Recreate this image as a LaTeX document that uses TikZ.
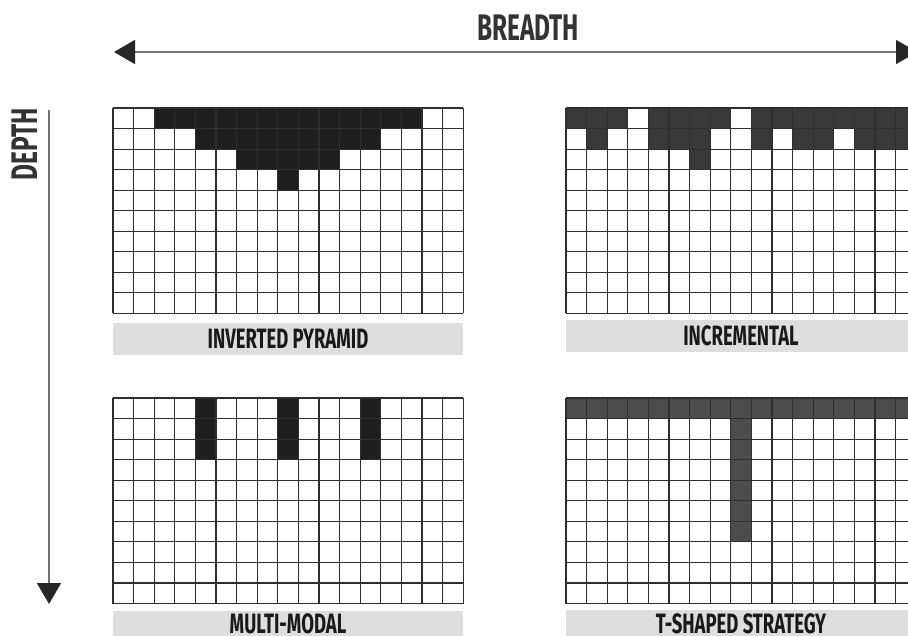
\documentclass[tikz,border=0pt]{standalone}
\usepackage{fontspec}
\newfontfamily\labelfont{Fira Sans}[FakeStretch=0.66]
\usetikzlibrary{arrows.meta, positioning}
\tikzset{
  cell/.style={draw=black!82, line width=1.1pt},
  darkA/.style={fill=black!88},
  darkB/.style={fill=black!78},
  darkC/.style={fill=black!70},
  bar/.style={fill=black!13},
  caption/.style={inner sep=0pt, text=black!90,
                  font=\labelfont\bfseries\fontsize{28}{28}\selectfont},
  axislabel/.style={font=\labelfont\bfseries\fontsize{37}{37}\selectfont,
                    text=black!80, inner sep=0pt},
  axis/.style={draw=black!55, line width=1.4pt},
  bigtip/.tip={Triangle[length=21pt, width=24pt, black!85]},
}
\newcommand\cellgrid{%
  \foreach \c in {0,...,17} \draw[cell] (\c,0) -- (\c,10);
  \foreach \r in {0,...,10} \draw[cell] (0,\r) -- (17,\r);
}

\begin{document}
\begin{tikzpicture}[x=1pt, y=-1pt]
  \useasboundingbox (0,0) rectangle (908,636);
  \clip (0,0) rectangle (908,636);

  % axes
  \coordinate (bleft) at (114,52);
  \coordinate (bright) at (917,52);
  \draw[axis, {bigtip}-{bigtip}] (bleft) -- (bright);
  \node[axislabel] (breadth) at (528,28) {BREADTH};
  \coordinate (dtop) at (49,110);
  \coordinate (dbot) at (49,604);
  \draw[axis, -{bigtip}] (dtop) -- (dbot);
  \node[axislabel, rotate=90] (depth) at (25,144) {DEPTH};

  % inverted pyramid
  \begin{scope}[shift={(113pt,-108pt)}, x=20.6pt, y=-20.55pt]
    \foreach \a/\b/\r in {2/15/0, 4/13/1, 6/11/2, 8/9/3}
      \fill[darkA] (\a,\r) rectangle (\b,\r+1);
    \cellgrid
  \end{scope}
  \fill[bar] (113,323) rectangle (463,355);
  \node[caption] (pyramid) at (288,339) {INVERTED PYRAMID};

  % incremental
  \begin{scope}[shift={(566pt,-108pt)}, x=20.6pt, y=-20.55pt]
    \foreach \a/\b/\r in {0/3/0, 4/8/0, 9/17/0, 1/2/1, 4/7/1, 9/10/1,
                          11/13/1, 14/17/1, 6/7/2}
      \fill[darkB] (\a,\r) rectangle (\b,\r+1);
    \cellgrid
  \end{scope}
  \fill[bar] (566,320) rectangle (916,352);
  \node[caption] (incremental) at (741,336) {INCREMENTAL};

  % multi-modal
  \begin{scope}[shift={(113pt,-398pt)}, x=20.6pt, y=-20.55pt]
    \foreach \a in {4, 8, 12}
      \fill[darkA] (\a,0) rectangle (\a+1,3);
    \cellgrid
  \end{scope}
  \fill[bar] (113,611) rectangle (463,640);
  \node[caption] (multimodal) at (288,624) {MULTI-MODAL};

  % t-shaped
  \begin{scope}[shift={(566pt,-398pt)}, x=20.6pt, y=-20.55pt]
    \fill[darkC] (0,0) rectangle (17,1);
    \fill[darkC] (8,1) rectangle (9,7);
    \cellgrid
  \end{scope}
  \fill[bar] (566,610) rectangle (916,640);
  \node[caption] (tshaped) at (741,624) {T-SHAPED STRATEGY};
\end{tikzpicture}
\end{document}
